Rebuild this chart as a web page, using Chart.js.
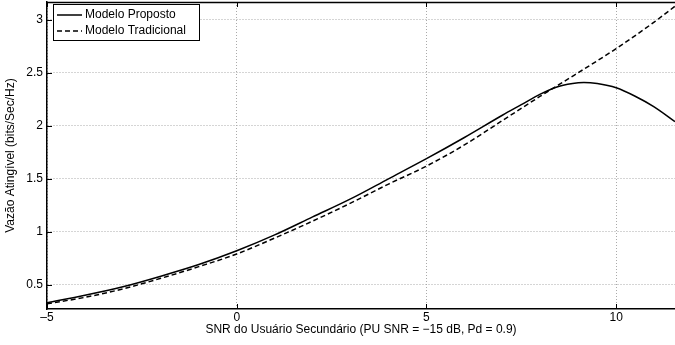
<!DOCTYPE html>
<html>
<head>
<meta charset="utf-8">
<script src="https://cdn.jsdelivr.net/npm/chart.js@4"></script>
<style>
  html, body { margin: 0; padding: 0; background: #fff; }
  #wrap { width: 675px; height: 345px; }
</style>
</head>
<body>
<div id="wrap"><canvas id="vazaoChart"></canvas></div>
<script>
// curva do modelo proposto
var snrProposto  = [-5, -4, -3, -2, -1, 0, 1, 2, 3, 4, 5, 6, 7, 7.5, 8, 8.5, 9, 9.15, 9.5, 10, 10.5, 11, 11.55];
var vazaoProposto = [0.33, 0.40, 0.48, 0.58, 0.69, 0.82, 0.97, 1.14, 1.31, 1.50, 1.69, 1.89, 2.10, 2.20, 2.30, 2.375, 2.408, 2.41, 2.40, 2.36, 2.28, 2.18, 2.04];

// curva do modelo tradicional
var snrTradicional  = [-5, -4, -3, -2, -1, 0, 1, 2, 3, 4, 5, 6, 7, 8, 8.9, 10, 11, 11.55];
var vazaoTradicional = [0.32, 0.38, 0.46, 0.56, 0.67, 0.79, 0.94, 1.10, 1.27, 1.45, 1.62, 1.82, 2.05, 2.28, 2.48, 2.73, 2.98, 3.13];

var xTicks = [-5, 0, 5, 10];
var yTicks = [0.5, 1, 1.5, 2, 2.5, 3];

var FONT = "'Liberation Sans', Arial, Helvetica, sans-serif";

function toPoints(xs, ys) {
    return xs.map(function (x, i) { return { x: x, y: ys[i] }; });
}

// MATLAB style: top border, inward ticks, boxed legend
var matlabFrame = {
    id: 'matlabFrame',
    afterDatasetsDraw: function (chart) {
        var ctx = chart.ctx, a = chart.chartArea;
        var xs = chart.scales.x, ys = chart.scales.y;
        ctx.save();
        ctx.strokeStyle = '#000';
        ctx.lineWidth = 1.5;
        ctx.beginPath();
        ctx.moveTo(a.left, a.top + 0.5);
        ctx.lineTo(a.right, a.top + 0.5);
        ctx.stroke();

        ctx.lineWidth = 1;
        ctx.beginPath();
        xTicks.forEach(function (v) {
            var px = Math.round(xs.getPixelForValue(v)) + 0.5;
            ctx.moveTo(px, a.bottom); ctx.lineTo(px, a.bottom - 5);
            ctx.moveTo(px, a.top); ctx.lineTo(px, a.top + 5);
        });
        yTicks.forEach(function (v) {
            var py = Math.round(ys.getPixelForValue(v)) + 0.5;
            ctx.moveTo(a.left, py); ctx.lineTo(a.left + 5, py);
        });
        ctx.stroke();

        // legenda
        var bx = 53.5, by = 4.5, bw = 146, bh = 36;
        ctx.fillStyle = '#fff';
        ctx.fillRect(bx, by, bw, bh);
        ctx.strokeStyle = '#000';
        ctx.lineWidth = 1;
        ctx.strokeRect(bx, by, bw, bh);
        ctx.font = '12px ' + FONT;
        ctx.textBaseline = 'middle';
        chart.data.datasets.forEach(function (ds, i) {
            var ly = 15 + i * 16;
            ctx.beginPath();
            ctx.lineWidth = 1.5;
            ctx.setLineDash(ds.borderDash || []);
            ctx.moveTo(57, ly);
            ctx.lineTo(82, ly);
            ctx.stroke();
            ctx.setLineDash([]);
            ctx.fillStyle = '#000';
            ctx.fillText(ds.label, 85, ly);
        });
        ctx.restore();
    }
};

var vazaoChart = new Chart(document.getElementById('vazaoChart'), {
    type: 'line',
    data: {
        datasets: [{
            label: 'Modelo Proposto',
            data: toPoints(snrProposto, vazaoProposto),
            borderColor: '#000',
            borderWidth: 1.5,
            pointRadius: 0,
            cubicInterpolationMode: 'monotone',
            fill: false
        }, {
            label: 'Modelo Tradicional',
            data: toPoints(snrTradicional, vazaoTradicional),
            borderColor: '#000',
            borderWidth: 1.5,
            borderDash: [5, 3],
            pointRadius: 0,
            cubicInterpolationMode: 'monotone',
            fill: false
        }]
    },
    options: {
        responsive: true,
        maintainAspectRatio: false,
        animation: false,
        layout: { padding: { top: 2, right: 0, left: 0, bottom: 0 } },
        plugins: {
            legend: { display: false },
            tooltip: { enabled: false }
        },
        scales: {
            x: {
                type: 'linear',
                min: -5,
                max: 11.55,
                afterBuildTicks: function (s) { s.ticks = xTicks.map(function (v) { return { value: v }; }); },
                afterFit: function (s) { s.height = 36; s.paddingLeft = 0; s.paddingRight = 0; },
                border: { display: true, color: '#000', width: 1.5, dash: [1, 2] },
                grid: { color: '#aaa', lineWidth: 1, drawTicks: false },
                ticks: {
                    color: '#000',
                    font: { family: FONT, size: 12 },
                    padding: 1,
                    maxRotation: 0,
                    callback: function (v) { return String(v).replace('-', '\u2013'); }
                },
                title: {
                    display: true,
                    text: 'SNR do Usuário Secundário (PU SNR = \u221215 dB, Pd = 0.9)',
                    color: '#000',
                    font: { family: FONT, size: 12 },
                    padding: { top: 0, bottom: 8 }
                }
            },
            y: {
                min: 0.27,
                max: 3.17,
                afterBuildTicks: function (s) { s.ticks = yTicks.map(function (v) { return { value: v }; }); },
                afterFit: function (s) { s.width = 47; s.paddingTop = 0; s.paddingBottom = 0; },
                border: { display: true, color: '#000', width: 1.5, dash: [1, 2] },
                grid: { color: '#aaa', lineWidth: 1, drawTicks: false },
                ticks: {
                    color: '#000',
                    font: { family: FONT, size: 12 },
                    padding: 4,
                    callback: function (v) { return String(v); }
                },
                title: {
                    display: true,
                    text: 'Vazão Atingível (bits/Sec/Hz)',
                    color: '#000',
                    font: { family: FONT, size: 12 },
                    padding: { top: 3, bottom: 0 }
                }
            }
        }
    },
    plugins: [matlabFrame]
});
</script>
</body>
</html>
